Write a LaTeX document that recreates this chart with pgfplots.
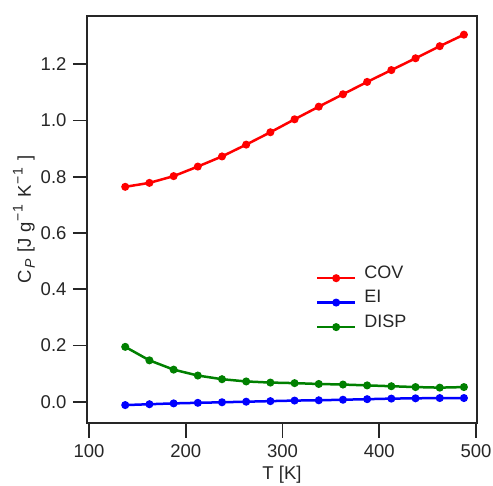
\documentclass[border=0pt]{standalone}
\usepackage{fontspec}
\setmainfont{Liberation Sans}
\usepackage{pgfplots}
\usepackage{pgfplotstable}
\pgfplotsset{compat=1.18}
\definecolor{axgray}{HTML}{262626}
\definecolor{mygreen}{RGB}{0,128,0}
\newcommand\sups[1]{\hspace{1.5bp}\raisebox{0.45em}{\fontsize{14bp}{14bp}\selectfont #1}\hspace{2bp}}
\newcommand\subs[1]{\hspace{1bp}\raisebox{-0.22em}{\fontsize{14bp}{14bp}\selectfont #1}\hspace{2bp}}
\pgfplotstableread{
T COV EI DISP
137.5 0.764 -0.012 0.195
162.5 0.778 -0.009 0.147
187.5 0.802 -0.006 0.114
212.5 0.836 -0.004 0.093
237.5 0.872 -0.002 0.080
262.5 0.914 0.000 0.072
287.5 0.958 0.002 0.068
312.5 1.004 0.004 0.066
337.5 1.049 0.005 0.063
362.5 1.093 0.007 0.061
387.5 1.137 0.009 0.058
412.5 1.179 0.011 0.055
437.5 1.221 0.012 0.052
462.5 1.264 0.013 0.050
487.5 1.305 0.013 0.052
}\datatable
\begin{document}
\fontsize{18.5bp}{22bp}\selectfont
\begin{tikzpicture}
\useasboundingbox (-87.3bp,-62.7bp) rectangle (405.7bp,423.3bp);
\begin{axis}[
  scale only axis, width=389.4bp, height=407.6bp,
  xmin=98.3, xmax=500.7, ymin=-0.0768, ymax=1.3724,
  xtick={100,200,300,400,500},
  ytick={0,0.2,0.4,0.6,0.8,1.0,1.2},
  yticklabel style={/pgf/number format/.cd, fixed, fixed zerofill, precision=1},
  /pgf/number format/assume math mode=true,
  tick label style={font=\fontsize{18.5bp}{22bp}\selectfont, color=axgray},
  label style={font=\fontsize{18.5bp}{22bp}\selectfont, color=axgray},
  xtick pos=left, ytick pos=left,
  tick align=outside,
  major tick length=14.5bp,
  every tick/.style={line width=1.8bp, color=axgray},
  axis line style={line width=1.8bp, color=axgray},
  xlabel={T [K]},
  ylabel={C\subs{\itshape P} [J g\sups{−1} K\sups{−1} ]},
  xlabel style={at={(axis description cs:0.5,-0.139)}, anchor=base},
  ylabel style={at={(axis description cs:-0.1626,0.5)}, anchor=center},
  legend style={draw=none, fill=none, inner sep=0pt, at={(axis description cs:0.5866,0.308)}, anchor=west,
    font=\fontsize{18bp}{21.6bp}\selectfont, text=axgray, column sep=8bp, row sep=9.2bp,
    nodes={inner sep=0pt, anchor=base west}},
  legend cell align=left,
  legend image code/.code={\draw[mark repeat=2,mark phase=2,#1] plot coordinates {(0bp,0bp) (19bp,0bp) (38bp,0bp)};},
  every axis plot/.append style={line width=2.5bp, mark=*, mark size=2.7bp},
]
\addplot[red, mark options={fill=red}] table[x=T, y=COV] {\datatable};
\addlegendentry{COV}
\addplot[blue, mark options={fill=blue}] table[x=T, y=EI] {\datatable};
\addlegendentry{EI}
\addplot[mygreen, mark options={fill=mygreen}] table[x=T, y=DISP] {\datatable};
\addlegendentry{DISP}
\end{axis}
\end{tikzpicture}
\end{document}
